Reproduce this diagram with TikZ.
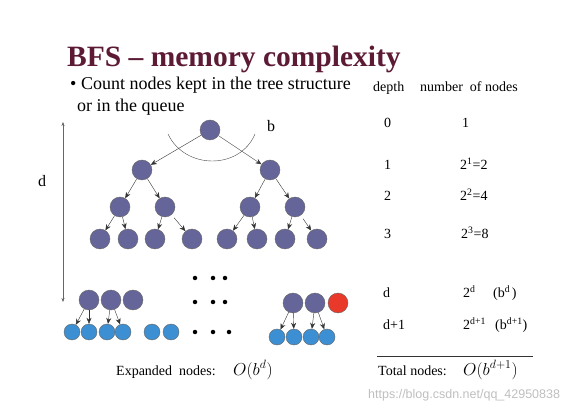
\documentclass[tikz,border=0pt]{standalone}
\usepackage{fontspec}
\setmainfont{Liberation Serif}
\setsansfont{Liberation Sans}
\usepackage{tikz}
\usetikzlibrary{arrows.meta}
\usetikzlibrary{calc}

\definecolor{titlecol}{HTML}{5C1A35}
\definecolor{treecol}{HTML}{65659A}
\definecolor{leafcol}{HTML}{3D8FD3}
\definecolor{goalcol}{HTML}{E8392A}

\begin{document}
\begin{tikzpicture}[x=1pt, y=-1pt,
        node_style/.style={circle,draw=black!60,fill=treecol,inner sep=0pt,minimum size=20pt},
        leaf_style/.style={circle,draw=black!60,fill=leafcol,inner sep=0pt,minimum size=16pt},
        goal_style/.style={circle,draw=black!60,fill=goalcol,inner sep=0pt,minimum size=20pt},
        dot_style/.style={circle,fill=black,inner sep=0pt,minimum size=4.5pt},
        edge_style/.style={draw=black!80, thin, -{Stealth[length=6pt,width=5pt]}},
        txt/.style={anchor=base west,inner sep=0pt,font=\fontsize{14}{16}\selectfont}]

        \useasboundingbox (0,0) rectangle (575,411);

        % title and bullet
        \node [anchor=base west,inner sep=0pt,text=titlecol,font=\fontsize{29.5}{32}\selectfont\bfseries](title) at (67,67) {BFS -- memory complexity};
        \node [anchor=base west,inner sep=0pt,font=\fontsize{18}{20}\selectfont](bul1) at (70,90) {\textbullet\ Count nodes kept in the tree structure};
        \node [anchor=base west,inner sep=0pt,font=\fontsize{18}{20}\selectfont](bul2) at (77,112) {or in the queue};

        % the tree
        \node [node_style](r) at (210,130) {};

        \node [node_style](a1) at (142,170) {};
        \node [node_style](a2) at (270,170) {};

        \node [node_style](b1) at (120,207) {};
        \node [node_style](b2) at (165,207) {};
        \node [node_style](b3) at (250,207) {};
        \node [node_style](b4) at (295,207) {};

        \node [node_style](c1) at (100,239) {};
        \node [node_style](c2) at (128,239) {};
        \node [node_style](c3) at (155,239) {};
        \node [node_style](c4) at (192,239) {};
        \node [node_style](c5) at (227,239) {};
        \node [node_style](c6) at (257,239) {};
        \node [node_style](c7) at (285,239) {};
        \node [node_style](c8) at (317,239) {};

        \draw [edge_style] (r) -- (a1);
        \draw [edge_style] (r) -- (a2);
        \draw [edge_style] (a1) -- (b1);
        \draw [edge_style] (a1) -- (b2);
        \draw [edge_style] (a2) -- (b3);
        \draw [edge_style] (a2) -- (b4);
        \draw [edge_style] (b1) -- (c1);
        \draw [edge_style] (b1) -- (c2);
        \draw [edge_style] (b2) -- (c3);
        \draw [edge_style, shorten <=4pt] (b2) -- (c4);
        \draw [edge_style] (b3) -- (c5);
        \draw [edge_style] (b3) -- (c6);
        \draw [edge_style] (b4) -- (c7);
        \draw [edge_style, shorten <=4pt] (b4) -- (c8);

        % branching factor
        \coordinate (arcL) at (168,134);
        \coordinate (arcR) at (255,134);
        \draw [black!70, thin] (arcL) .. controls (185,170) and (240,170) .. (arcR);
        \node [anchor=base west,inner sep=0pt,font=\fontsize{16}{18}\selectfont](blab) at (267,132) {b};

        % depth
        \coordinate (dtop) at (63,122);
        \coordinate (dbot) at (63,302);
        \draw [black!60, thin, {Stealth[length=4pt,width=3pt]}-{Stealth[length=4pt,width=3pt]}] (dtop) -- (dbot);
        \node [anchor=base west,inner sep=0pt,font=\fontsize{16}{18}\selectfont](dlab) at (38,187) {d};

        % last levels
        \node [node_style](p1) at (89,300) {};
        \node [node_style](p2) at (111,300) {};
        \node [node_style](p3) at (133,300) {};

        \node [leaf_style](q1) at (72,332) {};
        \node [leaf_style](q2) at (89,332) {};
        \node [leaf_style](q3) at (107,332) {};
        \node [leaf_style](q4) at (123,332) {};
        \node [leaf_style](q5) at (152,332) {};
        \node [leaf_style](q6) at (171,332) {};

        \draw [edge_style] (p1) -- (q1);
        \draw [edge_style] (p1) -- (q2);
        \draw [edge_style] (p2) -- (q3);
        \draw [edge_style] (p2) -- (q4);

        \node [node_style](s1) at (293,303) {};
        \node [node_style](s2) at (315,303) {};
        \node [goal_style](g) at (338,303) {};

        \node [leaf_style](u1) at (277,337) {};
        \node [leaf_style](u2) at (294,337) {};
        \node [leaf_style](u3) at (311,337) {};
        \node [leaf_style](u4) at (327,337) {};

        \draw [edge_style] (s1) -- (u1);
        \draw [edge_style] (s1) -- (u2);
        \draw [edge_style] (s2) -- (u3);
        \draw [edge_style] (s2) -- (u4);

        % dots
        \node [dot_style](d11) at (195,278) {};
        \node [dot_style](d12) at (213,278) {};
        \node [dot_style](d13) at (225,278) {};
        \node [dot_style](d21) at (195,302) {};
        \node [dot_style](d22) at (213,302) {};
        \node [dot_style](d23) at (225,302) {};
        \node [dot_style](d31) at (195,332) {};
        \node [dot_style](d32) at (213,332) {};
        \node [dot_style](d33) at (229,332) {};

        \node [txt](exp) at (116,375) {Expanded\ \ nodes:};
        \node [anchor=base west,inner sep=0pt,font=\fontsize{18}{20}\selectfont](expO) at (233,375) {$O(b^{d})$};

        % table
        \node [txt](hdep) at (373,92) {depth};
        \node [txt](hnum) at (420,92) {number\ \ of nodes};

        \node [txt](r0a) at (384,128) {0};
        \node [txt](r0b) at (462,128) {1};
        \node [txt](r1a) at (384,170) {1};
        \node [txt](r1b) at (460,170) {2\textsuperscript{1}=2};
        \node [txt](r2a) at (384,201) {2};
        \node [txt](r2b) at (460,201) {2\textsuperscript{2}=4};
        \node [txt](r3a) at (384,239) {3};
        \node [txt](r3b) at (461,239) {2\textsuperscript{3}=8};
        \node [txt](rda) at (383,298) {d};
        \node [txt](rdb) at (463,298) {2\textsuperscript{d}};
        \node [txt](rdc) at (493,298) {(b\textsuperscript{d\,})};
        \node [txt](rea) at (383,330) {d+1};
        \node [txt](reb) at (463,330) {2\textsuperscript{d+1}};
        \node [txt](rec) at (495,330) {(b\textsuperscript{d+1})};

        \coordinate (lineL) at (377,356);
        \coordinate (lineR) at (533,356);
        \draw [black!80, thin] (lineL) -- (lineR);

        \node [txt](tot) at (378,375) {Total nodes:};
        \node [anchor=base west,inner sep=0pt,font=\fontsize{18}{20}\selectfont](totO) at (463,375) {$O(b^{d+1})$};

        \node [anchor=base west,inner sep=0pt,text=black!25,font=\sffamily\fontsize{12.5}{14}\selectfont](wm) at (368,398) {https://blog.csdn.net/qq\_42950838};

        \end{tikzpicture}
\end{document}
